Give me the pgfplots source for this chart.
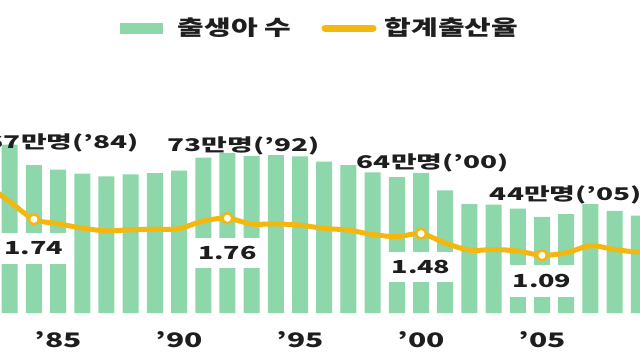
\documentclass[border=0pt]{standalone}
\usepackage{fontspec}
\setmainfont{Noto Sans CJK KR}
\usepackage{graphicx}
\usepackage{pgfplots}
\pgfplotsset{compat=1.18}
\definecolor{barg}{HTML}{8DD7AB}
\definecolor{tfro}{HTML}{F4B70F}
\definecolor{txt}{HTML}{1E1E1E}
\newcommand{\lab}[3]{\scalebox{#1}[1]{\fontsize{#2}{#2}\selectfont\bfseries #3}}

\pgfplotstableread{
year births
1982 848
1983 769
1984 675
1985 655
1986 636
1987 624
1988 633
1989 639
1990 650
1991 709
1992 731
1993 716
1994 721
1995 715
1996 691
1997 675
1998 642
1999 621
2000 640
2001 560
2002 497
2003 495
2004 477
2005 439
2006 452
2007 497
2008 466
2009 445
2010 470
}\births

\pgfplotstableread{
year tfr
1982 2.39
1983 2.06
1984 1.74
1985 1.66
1986 1.58
1987 1.53
1988 1.55
1989 1.56
1990 1.57
1991 1.71
1992 1.76
1993 1.654
1994 1.656
1995 1.634
1996 1.574
1997 1.544
1998 1.464
1999 1.425
2000 1.48
2001 1.309
2002 1.178
2003 1.191
2004 1.164
2005 1.085
2006 1.132
2007 1.259
2008 1.192
2009 1.149
2010 1.226
}\tfr

\begin{document}
\begin{tikzpicture}
\useasboundingbox (0,0) rectangle (640pt,360pt);
\clip (0,0) rectangle (640pt,360pt);
\pgfplotsset{base/.style={scale only axis, width=640pt, height=360pt,
  xmin=1982.6, xmax=2009.05, at={(0,0)}, anchor=south west,
  axis line style={draw=none}, tick style={draw=none}, ytick=\empty}}
\begin{axis}[base, ymin=-214.6, ymax=1429.2,
  xtick={1985,1990,1995,2000,2005},
  xticklabels={\lab{1.5}{20}{'85},\lab{1.5}{20}{'90},\lab{1.5}{20}{'95},\lab{1.5}{20}{'00},\lab{1.5}{20}{'05}},
  xticklabel style={anchor=center, yshift=20.5pt, text=txt, inner sep=0pt}]
\addplot[ybar, bar width=16pt, fill=barg, draw=none] table[x=year,y=births]{\births};
\node[text=txt] at (axis cs:1985.2,776) {\lab{1.6}{17.5}{67만명('84)}};
\node[text=txt] at (axis cs:1992.66,763) {\lab{1.6}{17.5}{73만명('92)}};
\node[text=txt] at (axis cs:2000.49,685) {\lab{1.6}{17.5}{64만명('00)}};
\node[text=txt] at (axis cs:2005.99,539) {\lab{1.6}{17.5}{44만명('05)}};
\end{axis}
\begin{axis}[base, ymin=-0.818, ymax=5.727, xtick=\empty]
\node[fill=white, minimum width=74pt, minimum height=31pt, inner sep=0pt, text=txt] at (axis cs:1984,1.218) {\lab{1.5}{18}{1.74}};
\node[fill=white, minimum width=74pt, minimum height=30pt, inner sep=0pt, text=txt] at (axis cs:1992,1.127) {\lab{1.5}{18}{1.76}};
\node[fill=white, minimum width=74pt, minimum height=30pt, inner sep=0pt, text=txt] at (axis cs:2000,0.873) {\lab{1.5}{18}{1.48}};
\node[fill=white, minimum width=74pt, minimum height=32pt, inner sep=0pt, text=txt] at (axis cs:2005,0.618) {\lab{1.5}{18}{1.09}};
\addplot[tfro, line width=5pt, smooth, tension=0.5] table[x=year,y=tfr]{\tfr};
\addplot[only marks, mark=*, mark size=5pt, mark options={fill=white, draw=tfro, line width=2.5pt}] coordinates {(1984,1.74) (1992,1.76) (2000,1.48) (2005,1.085)};
\end{axis}
% legend
\fill[barg] (120pt,326pt) rectangle (163pt,337pt);
\node[text=txt] at (234.5pt,332pt) {\lab{1.38}{21}{출생아 수}};
\draw[tfro, line width=7pt, line cap=round] (325pt,332pt) -- (373pt,332pt);
\node[text=txt] at (451.5pt,332pt) {\lab{1.38}{21}{합계출산율}};
\end{tikzpicture}
\end{document}
